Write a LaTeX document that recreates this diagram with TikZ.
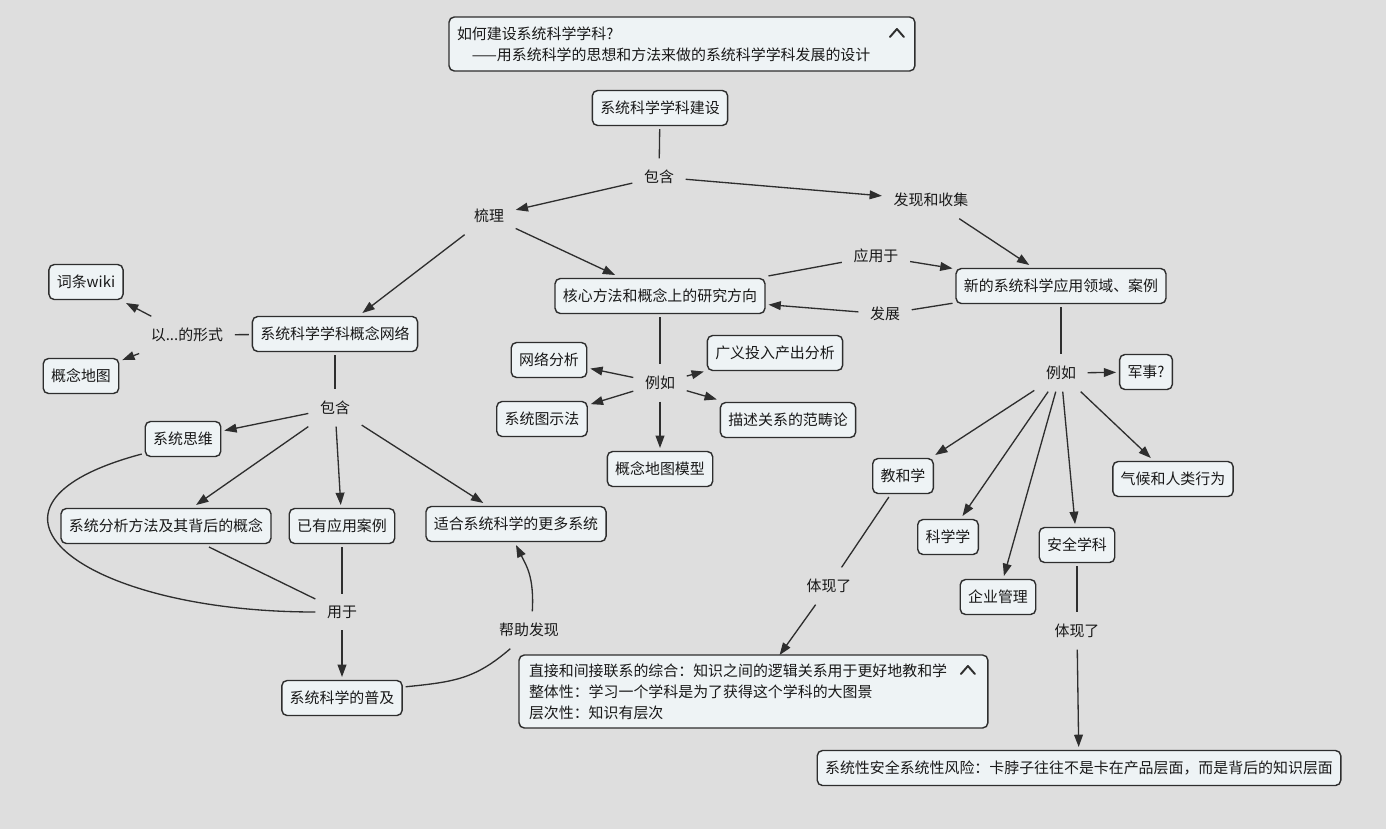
\documentclass[tikz,border=0pt]{standalone}
\usepackage{fontspec}
\setmainfont{Noto Sans CJK SC}
\usetikzlibrary{arrows.meta}
\definecolor{bgcol}{HTML}{DEDEDE}
\definecolor{boxcol}{HTML}{EEF3F5}
\definecolor{linecol}{HTML}{2E2E2E}
\tikzset{
	topic/.style={draw=linecol, fill=boxcol, rounded corners=3pt, line width=0.8pt, inner xsep=4.5pt, minimum height=0.7cm, outer sep=2pt},
	linklabel/.style={inner sep=6.5pt},
	conn/.style={draw=linecol, line width=0.75pt},
	arr/.style={conn, -{Triangle[length=7pt,width=5pt]}},
	caret/.style={draw=linecol, line width=1.1pt, line cap=round, line join=round}
}
\begin{document}
\begin{tikzpicture}[x=0.02cm, y=-0.02cm, every node/.style={font=\fontsize{8.5}{11.9}\selectfont, text=black!90}]
		\useasboundingbox (0,0) rectangle (1386,829);
		\fill[bgcol] (0,0) rectangle (1386,829);

		\node (title)[topic, anchor=north west, outer sep=0pt, text width=9.0cm, inner xsep=0.16cm, minimum height=1.08cm, align=left] at (449,17) {如何建设系统科学学科?\\\hspace*{1em}——用系统科学的思想和方法来做的系统科学学科发展的设计};
		\draw[caret] ([shift={(-25,20)}]title.north east) -- ++(7,-8) -- ++(7,8);

		\node (build)[topic] at (660,108) {系统科学学科建设};
		\node (contain1)[linklabel] at (659,177) {包含};
		\node (sort)[linklabel] at (489,216) {梳理};
		\node (discover)[linklabel] at (931,200) {发现和收集};
		\node (core)[topic, minimum width=4.2cm] at (660,296) {核心方法和概念上的研究方向};
		\node (newapp)[topic, minimum width=4.2cm] at (1061,286) {新的系统科学应用领域、案例};
		\node (apply)[linklabel] at (876,256) {应用于};
		\node (develop)[linklabel] at (885,314) {发展};

		\node (network)[topic] at (335,334) {系统科学学科概念网络};
		\node (form)[linklabel] at (187,335) {以...的形式};
		\node (wiki)[topic] at (86,282) {词条wiki};
		\node (cmap)[topic] at (81,376) {概念地图};
		\node (contain2)[linklabel] at (335,408) {包含};
		\node (thinking)[topic] at (183,439) {系统思维};
		\node (analysis)[topic] at (166,526) {系统分析方法及其背后的概念};
		\node (cases)[topic] at (342,526) {已有应用案例};
		\node (moresys)[topic] at (516,524) {适合系统科学的更多系统};
		\node (usefor)[linklabel] at (342,612) {用于};
		\node (popular)[topic] at (342,698) {系统科学的普及};
		\node (help)[linklabel] at (529,630) {帮助发现};

		\node (eg1)[linklabel] at (660,383) {例如};
		\node (netana)[topic] at (549,360) {网络分析};
		\node (io)[topic] at (775,353) {广义投入产出分析};
		\node (diagram)[topic] at (542,419) {系统图示法};
		\node (category)[topic] at (788,420) {描述关系的范畴论};
		\node (cmapmodel)[topic] at (660,469) {概念地图模型};

		\node (eg2)[linklabel] at (1061,373) {例如};
		\node (military)[topic] at (1146,372) {军事?};
		\node (teach)[topic] at (903,476) {教和学};
		\node (scisci)[topic] at (948,537) {科学学};
		\node (mgmt)[topic] at (998,597) {企业管理};
		\node (safety)[topic] at (1077,545) {安全学科};
		\node (climate)[topic] at (1173,479) {气候和人类行为};
		\node (embody1)[linklabel] at (829,586) {体现了};
		\node (embody2)[linklabel] at (1077,631) {体现了};

		\node (synth)[topic, anchor=north west, outer sep=0pt, text width=8.98cm, inner xsep=0.2cm, minimum height=1.46cm, align=left] at (519,655) {直接和间接联系的综合：知识之间的逻辑关系用于更好地教和学\\整体性：学习一个学科是为了获得这个学科的大图景\\层次性：知识有层次};
		\draw[caret] ([shift={(-27,19)}]synth.north east) -- ++(7,-8) -- ++(7,8);
		\node (risk)[topic] at (1079,768) {系统性安全系统性风险：卡脖子往往不是卡在产品层面，而是背后的知识层面};

		\draw[conn] (build) -- (contain1);
		\draw[arr] (contain1) -- (sort);
		\draw[arr] (contain1) -- (discover);
		\draw[arr] (sort) -- (network);
		\draw[arr] (sort) -- (core);
		\draw[arr] (discover) -- (newapp);
		\draw[conn] (core) -- (apply);
		\draw[arr] (apply) -- (newapp);
		\draw[conn] (newapp) -- (develop);
		\draw[arr] (develop) -- (core);

		\draw[conn] (network) -- (form);
		\draw[arr] (form) -- (wiki);
		\draw[arr] (form) -- (cmap);
		\draw[conn] (network) -- (contain2);
		\draw[arr] (contain2) -- (thinking);
		\draw[arr] (contain2) -- (analysis);
		\draw[arr] (contain2) -- (cases);
		\draw[arr] (contain2) -- (moresys);
		\draw[conn] (thinking.200) .. controls +(-195,52) and +(-236,0) .. (usefor.west);
		\draw[conn] (analysis) -- (usefor);
		\draw[conn] (cases) -- (usefor);
		\draw[arr] (usefor) -- (popular);
		\draw[conn] (popular.10) .. controls +(50,-5) and +(-35,30) .. (help.225);
		\draw[arr] (help.80) .. controls +(2,-35) and +(10,20) .. (moresys.south);

		\draw[conn] (core) -- (eg1);
		\draw[arr] (eg1) -- (netana);
		\draw[arr] (eg1) -- (io);
		\draw[arr] (eg1) -- (diagram);
		\draw[arr] (eg1) -- (category);
		\draw[arr] (eg1) -- (cmapmodel);

		\draw[conn] (newapp) -- (eg2);
		\draw[arr] (eg2) -- (military);
		\draw[arr] (eg2) -- (teach);
		\draw[arr] (eg2) -- (scisci);
		\draw[arr] (eg2) -- (mgmt);
		\draw[arr] (eg2) -- (safety);
		\draw[arr] (eg2) -- (climate);
		\draw[conn] (teach) -- (embody1);
		\draw[arr] (embody1) -- (synth);
		\draw[conn] (safety) -- (embody2);
		\draw[arr] (embody2) -- (risk);
	\end{tikzpicture}
\end{document}
